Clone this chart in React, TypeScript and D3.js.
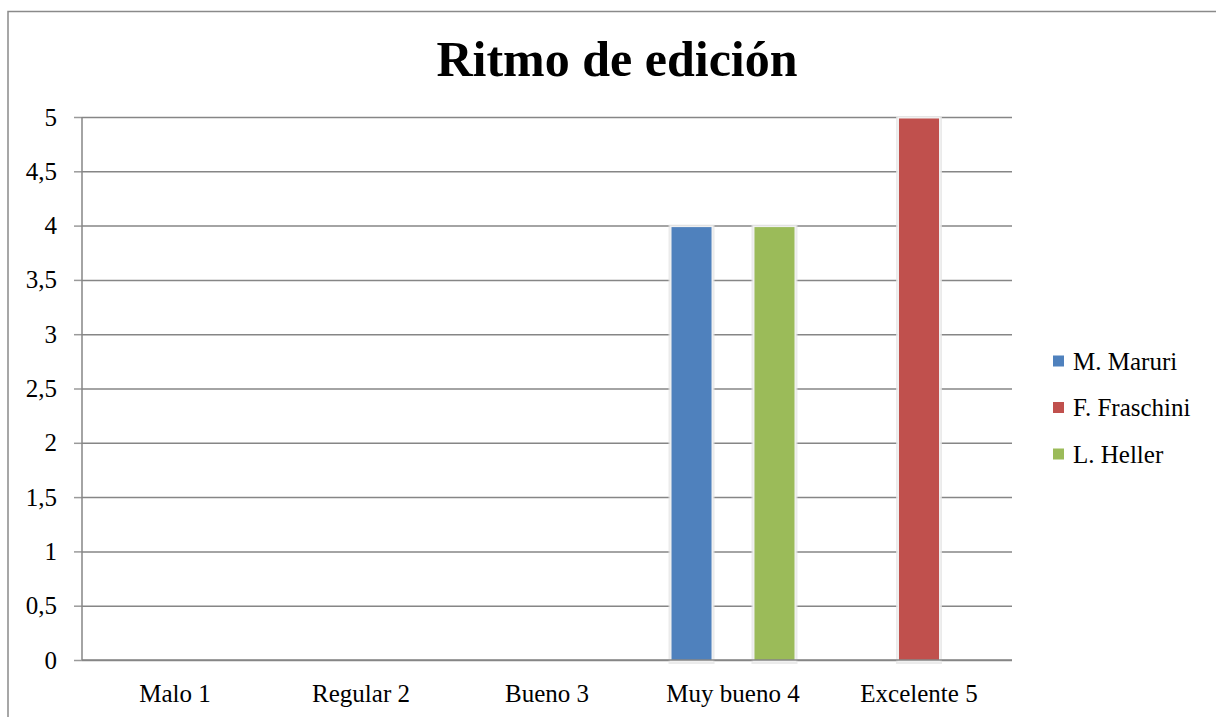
import { useEffect, useRef } from 'react'
import * as d3 from 'd3'

const CATEGORIES = ['Malo 1', 'Regular 2', 'Bueno 3', 'Muy bueno 4', 'Excelente 5']
const SERIES = ['M. Maruri', 'F. Fraschini', 'L. Heller']
const MARURI = [0, 0, 0, 4, 0]
const FRASCHINI = [0, 0, 0, 0, 5]
const HELLER = [0, 0, 0, 4, 0]
const Y_TICKS = [0, 0.5, 1, 1.5, 2, 2.5, 3, 3.5, 4, 4.5, 5]

const COLORS: Record<string, string> = {
  'M. Maruri': '#4f81bd',
  'F. Fraschini': '#c0504d',
  'L. Heller': '#9bbb59',
}

const FONT = '"Liberation Serif", "DejaVu Serif", serif'

export default function App() {
  const svgRef = useRef<SVGSVGElement>(null)
  const WIDTH = 1216
  const HEIGHT = 717
  const PLOT = { left: 82, right: 1012, top: 117, bottom: 660 }

  useEffect(() => {
    if (!svgRef.current) return
    const svg = d3.select(svgRef.current)
    svg.selectAll('*').remove()

    const values: Record<string, number[]> = {
      'M. Maruri': MARURI,
      'F. Fraschini': FRASCHINI,
      'L. Heller': HELLER,
    }

    const x0 = d3.scaleBand<string>().domain(CATEGORIES).range([PLOT.left, PLOT.right]).padding(0)
    const x1 = d3.scaleBand<string>().domain(SERIES).range([0, x0.bandwidth()])
      .paddingInner(0.036).paddingOuter(0.76)
    const y = d3.scaleLinear().domain([0, 5]).range([PLOT.bottom, PLOT.top])

    // outer frame (cropped on the right / bottom)
    svg.append('path')
      .attr('d', `M8,${HEIGHT} V11.5 H${WIDTH}`)
      .attr('fill', 'none').attr('stroke', '#8a8a8a').attr('stroke-width', 1.5)

    // title
    svg.append('text')
      .attr('x', 617).attr('y', 76)
      .attr('text-anchor', 'middle')
      .attr('font-family', FONT).attr('font-weight', 'bold').attr('font-size', 50)
      .attr('fill', '#000')
      .text('Ritmo de edición')

    // gridlines + y ticks
    const yAxis = d3.axisLeft(y).tickValues(Y_TICKS)
      .tickSize(-(PLOT.right - PLOT.left)).tickSizeOuter(0)
      .tickFormat(d => d3.format('')(d as number).replace('.', ','))
    svg.append('g')
      .attr('transform', `translate(${PLOT.left},0)`)
      .call(yAxis)
      .call(ag => ag.select('.domain').remove())
      .call(ag => ag.selectAll('.tick line').attr('stroke', '#868686').attr('stroke-width', 1.5))
      .call(ag => ag.selectAll('.tick text')
        .attr('x', -25).attr('fill', '#000')
        .attr('font-family', FONT).attr('font-size', 25))

    // small outer tick segments on the left
    svg.append('g')
      .attr('transform', `translate(${PLOT.left},0)`)
      .call(d3.axisLeft(y).tickValues(Y_TICKS).tickSize(8).tickSizeOuter(0).tickFormat(() => ''))
      .call(ag => ag.select('.domain').remove())
      .call(ag => ag.selectAll('.tick line').attr('stroke', '#9a9a9a').attr('stroke-width', 1.5))

    // bars with soft glow
    CATEGORIES.forEach((cat, ci) => {
      SERIES.forEach(s => {
        const v = values[s][ci]
        if (!v) return
        const bx = (x0(cat) ?? 0) + (x1(s) ?? 0)
        const bw = x1.bandwidth()
        svg.append('rect')
          .attr('x', bx - 3).attr('y', y(v) - 1)
          .attr('width', bw + 6).attr('height', y(0) - y(v) + 5)
          .attr('fill', '#e6e6e6').attr('opacity', 0.8)
        svg.append('rect')
          .attr('x', bx - 1.5).attr('y', y(v))
          .attr('width', bw + 3).attr('height', y(0) - y(v) + 2)
          .attr('fill', '#f0f0f0')
        svg.append('rect')
          .attr('x', bx).attr('y', y(v) + 1.5)
          .attr('width', bw).attr('height', y(0) - y(v) - 1.5)
          .attr('fill', COLORS[s])
      })
    })

    // axes lines
    svg.append('line')
      .attr('x1', PLOT.left).attr('x2', PLOT.left).attr('y1', PLOT.top).attr('y2', PLOT.bottom)
      .attr('stroke', '#868686').attr('stroke-width', 1.5)
    svg.append('line')
      .attr('x1', PLOT.left).attr('x2', PLOT.right).attr('y1', PLOT.bottom).attr('y2', PLOT.bottom)
      .attr('stroke', '#868686').attr('stroke-width', 1.5)

    // category labels
    svg.append('g')
      .attr('transform', `translate(0,${PLOT.bottom})`)
      .call(d3.axisBottom(x0).tickSize(0).tickPadding(24))
      .call(ag => ag.select('.domain').remove())
      .call(ag => ag.selectAll('.tick text')
        .attr('fill', '#000').attr('font-family', FONT).attr('font-size', 25))

    // legend
    const legendY = d3.scalePoint<string>().domain(SERIES).range([361, 454])
    SERIES.forEach(s => {
      const ly = legendY(s) ?? 0
      svg.append('rect')
        .attr('x', 1053).attr('y', ly - 5.5).attr('width', 11).attr('height', 11)
        .attr('fill', COLORS[s])
      svg.append('text')
        .attr('x', 1073).attr('y', ly)
        .attr('dominant-baseline', 'central')
        .attr('font-family', FONT).attr('font-size', 25).attr('fill', '#000')
        .text(s)
    })
  }, [])

  return (
    <svg
      ref={svgRef}
      width={WIDTH}
      height={HEIGHT}
      style={{ position: 'absolute', left: 0, top: 0, background: '#fff' }}
    />
  )
}
